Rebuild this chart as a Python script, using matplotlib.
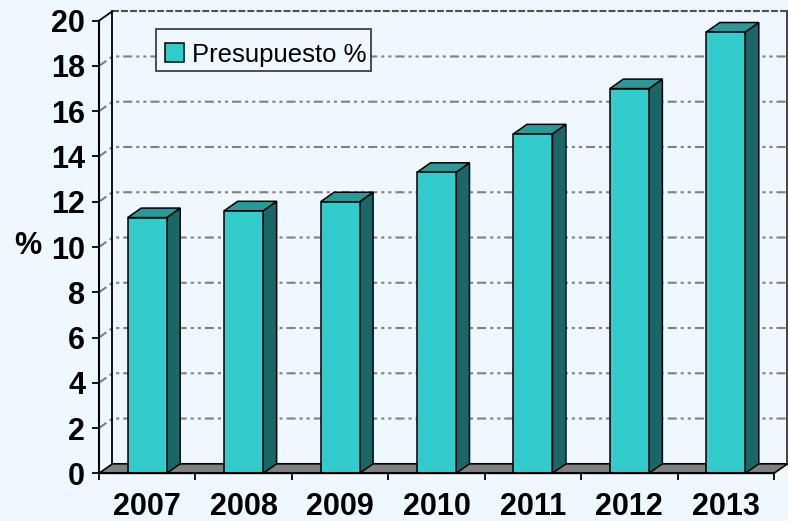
import matplotlib
matplotlib.use('Agg')
import matplotlib.pyplot as plt
from matplotlib.patches import Polygon, Rectangle
from matplotlib.ticker import FixedLocator, NullFormatter

# ---- data ----
years = ['2007', '2008', '2009', '2010', '2011', '2012', '2013']
values = [11.3, 11.6, 12.0, 13.3, 15.0, 17.0, 19.5]
yticks = list(range(0, 21, 2))
series_name = 'Presupuesto %'
ylabel = '%'

plt.rcParams['font.family'] = ['Liberation Sans', 'DejaVu Sans']
plt.rcParams['lines.scale_dashes'] = False

W, H = 788, 521
fig = plt.figure(figsize=(W / 100, H / 100), dpi=100)
bg = '#EEF8FE'
fig.patch.set_facecolor(bg)

ax_l, ax_r, ax_t, ax_b = 99, 774, 20.7, 473.3
ax = fig.add_axes([ax_l / W, 1 - ax_b / H, (ax_r - ax_l) / W, (ax_b - ax_t) / H])
n = len(years)
ymax = 20
ax.set_xlim(0, n)
ax.set_ylim(0, ymax)
ax.patch.set_visible(False)

px_x = (ax_r - ax_l) / n
px_y = (ax_b - ax_t) / ymax
dx = 13.5 / px_x
dy = 9.5 / px_y

front_c = '#33CCCC'
top_c = '#299999'
side_c = '#1B6666'
floor_c = '#808080'
grid_c = '#808080'

# walls
ax.add_patch(Polygon([(0, 0), (dx, dy), (dx, ymax + dy), (0, ymax)], closed=True,
                     fc=bg, ec='none', zorder=0.5, clip_on=False))
# gridlines (dash-dot-dot)
for v in yticks[1:-1]:
    ax.plot([0, dx, n + dx], [v, v + dy, v + dy], color=grid_c, lw=1.5,
            linestyle=(0, (6.5, 2.9, 2.2, 2.9, 2.2, 2.9)), zorder=1, clip_on=False,
            solid_capstyle='butt', dash_capstyle='butt')
# back wall edges
ax.plot([dx, dx], [dy, ymax + dy], color='black', lw=1.3, zorder=1.2, clip_on=False)
ax.plot([n + dx, n + dx], [dy, ymax + dy], color='#333333', lw=1.3, zorder=1.2, clip_on=False)
ax.plot([dx, n + dx], [ymax + dy, ymax + dy], color='#505050', lw=1.5,
        linestyle=(0, (5, 1.5)), zorder=1.2, clip_on=False)
ax.plot([0, dx], [ymax, ymax + dy], color='black', lw=1.3, zorder=1.2, clip_on=False)

# floor
ax.add_patch(Polygon([(0, 0), (n, 0), (n + dx, dy), (dx, dy)], closed=True,
                     fc=floor_c, ec='black', lw=1.2, zorder=1.5, clip_on=False))

# bars
bw = 39 / px_x
for i, v in enumerate(values):
    x0 = i + 0.5 - bw / 2
    x1 = x0 + bw
    ax.add_patch(Polygon([(x1, 0), (x1 + dx, dy), (x1 + dx, v + dy), (x1, v)], closed=True,
                         fc=side_c, ec='black', lw=1.1, zorder=3, clip_on=False))
    ax.add_patch(Polygon([(x0, v), (x1, v), (x1 + dx, v + dy), (x0 + dx, v + dy)], closed=True,
                         fc=top_c, ec='black', lw=1.1, zorder=3, clip_on=False))
    ax.add_patch(Rectangle((x0, 0), bw, v, fc=front_c, ec='black', lw=1.1,
                           zorder=3.1, clip_on=False))

# axes / ticks
for s in ['top', 'right']:
    ax.spines[s].set_visible(False)
for s in ['left', 'bottom']:
    ax.spines[s].set_linewidth(1.5)
    ax.spines[s].set_color('black')
    ax.spines[s].set_zorder(4)

tick_fs = 22
ax.set_yticks(yticks)
ax.set_yticklabels([str(t) for t in yticks], fontsize=tick_fs, fontweight='bold')
ax.tick_params(axis='y', direction='out', length=5, width=1.3, pad=5)

ax.xaxis.set_major_locator(FixedLocator(list(range(n + 1))))
ax.xaxis.set_major_formatter(NullFormatter())
ax.xaxis.set_minor_locator(FixedLocator([i + 0.5 for i in range(n)]))
ax.set_xticklabels(years, minor=True, fontsize=tick_fs, fontweight='bold')
ax.tick_params(axis='x', which='major', direction='out', length=5, width=1.3)
ax.tick_params(axis='x', which='minor', length=0, pad=13.5)

fig.text(28 / W, 1 - 246 / H, ylabel, fontsize=tick_fs, fontweight='bold', ha='center', va='center')

# legend
fig.add_artist(Rectangle((155.5 / W, 1 - 70.7 / H), 215 / W, 41.7 / H, transform=fig.transFigure,
                         fc=bg, ec='#404040', lw=1.3, zorder=5))
fig.add_artist(Rectangle((165 / W, 1 - 62.3 / H), 19.3 / W, 19.6 / H, transform=fig.transFigure,
                         fc=front_c, ec='black', lw=1.1, zorder=6))
fig.text(192.5 / W, 1 - 61.7 / H, series_name, fontsize=18.5, ha='left', va='baseline', zorder=6)

fig.savefig('out.png', dpi=100, facecolor=bg)
